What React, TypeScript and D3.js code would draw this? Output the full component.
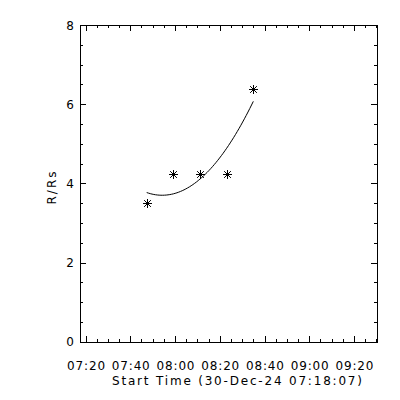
import React, { useEffect, useRef } from 'react'
import * as d3 from 'd3'

const obsTimes = ['07:47:21', '07:59:16', '08:11:10', '08:23:06', '08:35:00']
const heights = [3.5, 4.23, 4.23, 4.23, 6.38]
const day = '2024-12-30'
const axisStart = '07:17:32'
const axisEnd = '09:30:17'
const xTickLabels = ['07:20', '07:40', '08:00', '08:20', '08:40', '09:00', '09:20']
const yTicks = [0, 2, 4, 6, 8]
const xTitle = 'Start Time (30-Dec-24 07:18:07)'
const yTitle = 'R/Rs'

const toDate = (t: string) => new Date(`${day}T${t}`)

// quadratic least squares fit of height vs time (minutes)
const quadFit = (xs: number[], ys: number[]) => {
  const m = xs.reduce((a, b) => a + b, 0) / xs.length
  const u = xs.map((x) => x - m)
  const s = (f: (i: number) => number) => u.reduce((acc, _, i) => acc + f(i), 0)
  const n = u.length
  const su = s((i) => u[i]), su2 = s((i) => u[i] ** 2), su3 = s((i) => u[i] ** 3), su4 = s((i) => u[i] ** 4)
  const sy = s((i) => ys[i]), suy = s((i) => u[i] * ys[i]), su2y = s((i) => u[i] ** 2 * ys[i])
  const A = [[n, su, su2], [su, su2, su3], [su2, su3, su4]]
  const B = [sy, suy, su2y]
  const det = (M: number[][]) =>
    M[0][0] * (M[1][1] * M[2][2] - M[1][2] * M[2][1]) -
    M[0][1] * (M[1][0] * M[2][2] - M[1][2] * M[2][0]) +
    M[0][2] * (M[1][0] * M[2][1] - M[1][1] * M[2][0])
  const D = det(A)
  const coef = [0, 1, 2].map((k) => det(A.map((row, r) => row.map((v, c) => (c === k ? B[r] : v)))) / D)
  return (x: number) => coef[0] + coef[1] * (x - m) + coef[2] * (x - m) ** 2
}

const HeightTime = () => {
  const svgRef = useRef<SVGSVGElement>(null)
  const width = 400
  const height = 400
  const left = 80, right = 377, top = 25, bottom = 341.7

  useEffect(() => {
    const svg = d3.select(svgRef.current)
    svg.selectAll('*').remove()

    const x = d3.scaleTime().domain([toDate(axisStart), toDate(axisEnd)]).range([left, right])
    const y = d3.scaleLinear().domain([0, 8]).range([bottom, top])
    const font = "'DejaVu Sans', sans-serif"

    const g = svg.append('g').attr('stroke', '#000').attr('stroke-width', 1).attr('fill', 'none')
    g.append('rect')
      .attr('x', left + 0.5).attr('y', top + 0.5)
      .attr('width', right - left).attr('height', bottom - top)
      .attr('shape-rendering', 'crispEdges')

    // x ticks (bottom + top)
    const xMinor = d3.timeMinute.every(5)!.range(toDate(axisStart), toDate(axisEnd))
    xMinor.forEach((d) => {
      const major = d.getMinutes() % 20 === 0
      const len = major ? 6 : 3
      const px = Math.round(x(d)) + 0.5
      g.append('line').attr('x1', px).attr('x2', px).attr('y1', bottom).attr('y2', bottom - len).attr('shape-rendering', 'crispEdges')
      g.append('line').attr('x1', px).attr('x2', px).attr('y1', top).attr('y2', top + len).attr('shape-rendering', 'crispEdges')
    })

    // y ticks (left + right)
    d3.range(0, 8.01, 0.5).forEach((v) => {
      const major = v % 2 === 0
      const len = major ? 6 : 3
      const py = Math.round(y(v)) + 0.5
      g.append('line').attr('x1', left).attr('x2', left + len).attr('y1', py).attr('y2', py).attr('shape-rendering', 'crispEdges')
      g.append('line').attr('x1', right).attr('x2', right - len).attr('y1', py).attr('y2', py).attr('shape-rendering', 'crispEdges')
    })

    const labels = svg.append('g').attr('fill', '#000').attr('font-family', font).attr('font-size', 12)

    labels.selectAll('text.xl')
      .data(xTickLabels)
      .join('text')
      .attr('class', 'xl')
      .attr('x', (d) => x(toDate(d + ':00')) + 0.5)
      .attr('y', 370)
      .attr('text-anchor', 'middle')
      .attr('textLength', 38)
      .attr('lengthAdjust', 'spacing')
      .text((d) => d)

    labels.selectAll('text.yl')
      .data(yTicks)
      .join('text')
      .attr('class', 'yl')
      .attr('x', 74)
      .attr('y', (d) => y(d) + 4.5)
      .attr('text-anchor', 'end')
      .text((d) => d)

    labels.append('text')
      .attr('x', 237).attr('y', 385)
      .attr('text-anchor', 'middle')
      .attr('textLength', 250)
      .attr('lengthAdjust', 'spacing')
      .text(xTitle)

    labels.append('text')
      .attr('transform', `translate(56,188) rotate(-90)`)
      .attr('text-anchor', 'middle')
      .attr('textLength', 33)
      .attr('lengthAdjust', 'spacing')
      .text(yTitle)

    // fit curve
    const t0 = toDate(obsTimes[0]).getTime()
    const mins = obsTimes.map((t) => (toDate(t).getTime() - t0) / 60000)
    const fit = quadFit(mins, heights)
    const samples = d3.range(0, 61).map((i) => mins[0] + ((mins[mins.length - 1] - mins[0]) * i) / 60)
    const line = d3.line<number>()
      .x((m) => x(new Date(t0 + m * 60000)))
      .y((m) => y(fit(m)))
    g.append('path').attr('d', line(samples))

    // asterisk markers
    const r = 4.5
    const stars = g.append('g')
    obsTimes.forEach((t, i) => {
      const cx = Math.round(x(toDate(t))) + 0.5
      const cy = Math.round(y(heights[i])) + 0.5
      const d = r * 0.75
      stars.append('path').attr('d', `M${cx - r},${cy}H${cx + r}M${cx},${cy - r}V${cy + r}M${cx - d},${cy - d}L${cx + d},${cy + d}M${cx - d},${cy + d}L${cx + d},${cy - d}`)
    })
  }, [])

  return (
    <div style={{ position: 'absolute', left: 0, top: 0, background: '#fff' }}>
      <svg ref={svgRef} width={width} height={height} style={{ display: 'block' }}></svg>
    </div>
  )
}

export default function App() {
  return <HeightTime />
}
